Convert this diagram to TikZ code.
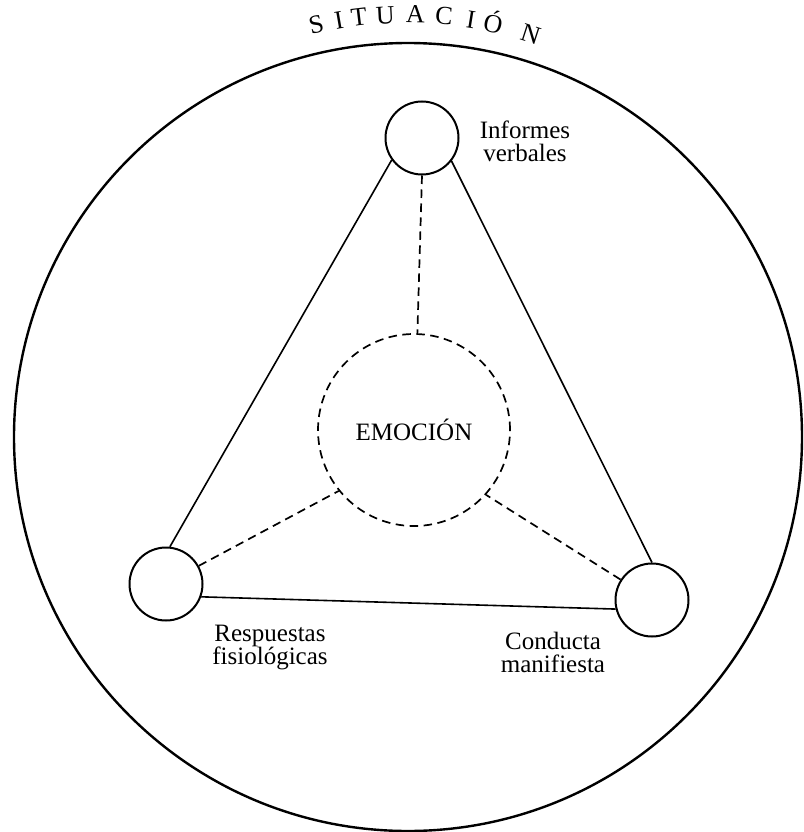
\documentclass[tikz,border=0pt]{standalone}
\usepackage{fontspec}
\setmainfont{Liberation Serif}
\begin{document}
\begin{tikzpicture}[x=1pt,y=-1pt,
  lbl/.style={font=\fontsize{25}{23}\selectfont, align=center, inner sep=0pt},
  smallc/.style={circle, draw, line width=2pt, minimum size=73pt, inner sep=0pt},
  tri/.style={line width=1.6pt},
  dsh/.style={line width=1.7pt, dash pattern=on 8.5pt off 5.5pt},
  sit/.style={font=\fontsize{26}{26}\selectfont, anchor=base, inner sep=0pt}]
\useasboundingbox (0,0) rectangle (803,832);
\node[circle, draw, line width=2.4pt, minimum size=788pt, inner sep=0pt] (situ) at (408,437) {};
\node[smallc] (inf) at (422,138) {};
\node[smallc] (res) at (166,584) {};
\node[smallc] (con) at (652,600) {};
\node[circle, draw, dsh, minimum size=192pt, inner sep=0pt, font=\fontsize{25}{25}\selectfont] (emo) at (414,430) {EMOCIÓN};
\draw[tri] (inf.216) -- (res.84);
\draw[tri] (inf.322) -- (con.90);
\draw[tri] (res.340) -- (con.194);
\draw[dsh] (inf.270) -- (emo.88);
\draw[dsh] (res.29) -- (emo.219);
\draw[dsh] (con.147) -- (emo.318);
\node[lbl] (infl) at (525,141) {Informes\\verbales};
\node[lbl] (resl) at (270,648) {Respuestas\\fisiológicas};
\node[lbl] (conl) at (553,652) {Conducta\\manifiesta};
\node[sit, rotate=13.1] (s1) at (318.1,33.2) {S};
\node[sit, rotate=9.8] (s2) at (340.3,28.7) {I};
\node[sit, rotate=6.9] (s3) at (359.9,25.8) {T};
\node[sit, rotate=3.1] (s4) at (385.8,23.6) {U};
\node[sit, rotate=-1.2] (s5) at (415.2,23.1) {A};
\node[sit, rotate=-5.3] (s6) at (443.2,24.7) {C};
\node[sit, rotate=-9.2] (s7) at (469.7,28.05) {I};
\node[sit, rotate=-12.4] (s8) at (491.2,32.1) {Ó};
\node[sit, rotate=-18] (s9) at (528.1,42.2) {N};
\end{tikzpicture}
\end{document}
